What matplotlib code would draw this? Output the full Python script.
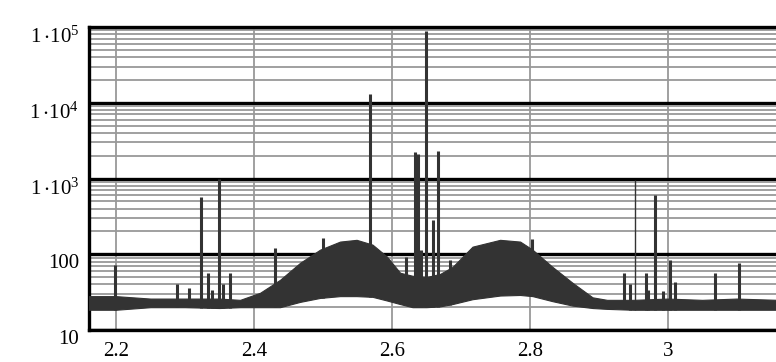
import numpy as np
import matplotlib
matplotlib.use("Agg")
import matplotlib.pyplot as plt
from matplotlib.ticker import FixedLocator, LogLocator, NullFormatter

plt.rcParams['font.family'] = ['Liberation Serif', 'DejaVu Serif']
plt.rcParams['mathtext.fontset'] = 'custom'
plt.rcParams['mathtext.rm'] = 'Liberation Serif'

# envelope of the dense noisy signal (x, lower, upper)
env_x = [2.16, 2.20, 2.25, 2.30, 2.35, 2.38, 2.409, 2.438, 2.467, 2.496, 2.525,
         2.549, 2.572, 2.593, 2.612, 2.63, 2.65, 2.67, 2.688, 2.717, 2.757,
         2.786, 2.804, 2.833, 2.862, 2.891, 2.912, 2.95, 3.00, 3.05, 3.10, 3.16]
env_upper = [28, 28, 26, 26, 26, 25, 31, 46, 77, 115, 147, 155, 134, 93, 57,
             52, 50, 55, 68, 126, 155, 147, 115, 68, 42, 27, 25, 25, 26, 25, 26, 25]
env_lower = [18.5, 18.5, 20, 20, 19.5, 20, 20, 20, 23.5, 26.5, 28, 28, 27.4,
             24.5, 22, 20, 20, 20.5, 22, 25.5, 28.5, 29, 28, 24, 21, 19.5, 19,
             18.5, 18.5, 18.5, 18.5, 18.5]

# isolated spectral lines (position, peak height)
spike_x = [2.199, 2.288, 2.306, 2.323, 2.333, 2.339, 2.349, 2.355, 2.365, 2.430,
           2.500, 2.569, 2.620, 2.633, 2.638, 2.643, 2.650, 2.659, 2.667, 2.684,
           2.803, 2.936, 2.946, 2.968, 2.971, 2.981, 2.993, 3.004, 3.011,
           3.069, 3.103]
spike_y = [73, 41, 36, 578, 57, 34, 1000, 40, 57, 122,
           165, 12970, 93, 2206, 2100, 115, 88500, 286, 2340, 84,
           160, 57, 40, 57, 34, 613, 33, 84, 43,
           57, 77]
thin_x = [2.953]
thin_y = [970]

xticks = [2.2, 2.4, 2.6, 2.8, 3.0]
xtick_labels = ['2.2', '2.4', '2.6', '2.8', '3']
yticks = [10, 100, 1e3, 1e4, 1e5]
ytick_labels = ['10', '100', r'$\mathregular{1\,{\cdot}10^{3}\ \ }$',
                r'$\mathregular{1\,{\cdot}10^{4}\ \ }$',
                r'$\mathregular{1\,{\cdot}10^{5}\ \ }$']

ink = '#333333'

fig = plt.figure(figsize=(7.76, 3.62), dpi=100)
ax = fig.add_axes([0.1147, 0.0884, 0.8853, 0.837])

ax.set_yscale('log')
ax.set_xlim(2.161, 3.157)
ax.set_ylim(10, 1e5)

ax.fill_between(env_x, env_lower, env_upper, color=ink, lw=0.8, zorder=3)

base = np.interp(spike_x, env_x, env_lower)
ax.vlines(spike_x, base, spike_y, color=ink, lw=2.2, zorder=3)
base_t = np.interp(thin_x, env_x, env_lower)
ax.vlines(thin_x, base_t, thin_y, color=ink, lw=1.0, zorder=3)

ax.xaxis.set_major_locator(FixedLocator(xticks))
ax.set_xticklabels(xtick_labels)
ax.yaxis.set_major_locator(FixedLocator(yticks))
ax.set_yticklabels(ytick_labels)
ax.yaxis.set_minor_locator(LogLocator(base=10, subs=np.arange(2, 10)))
ax.yaxis.set_minor_formatter(NullFormatter())

ax.set_axisbelow(True)
ax.grid(True, axis='x', which='major', color='#999999', lw=1.3)
ax.grid(True, axis='y', which='minor', color='#999999', lw=1.3)
ax.grid(True, axis='y', which='major', color='black', lw=2.4)

ax.tick_params(which='both', length=0, labelsize=15)
ax.tick_params(axis='y', pad=7)
ax.tick_params(axis='x', pad=9)
for lbl in ax.get_yticklabels():
    lbl.set_va('top')

for side in ['left', 'top', 'bottom']:
    ax.spines[side].set_linewidth(2.4)
ax.spines['right'].set_visible(False)

fig.savefig('out.png', dpi=100)
